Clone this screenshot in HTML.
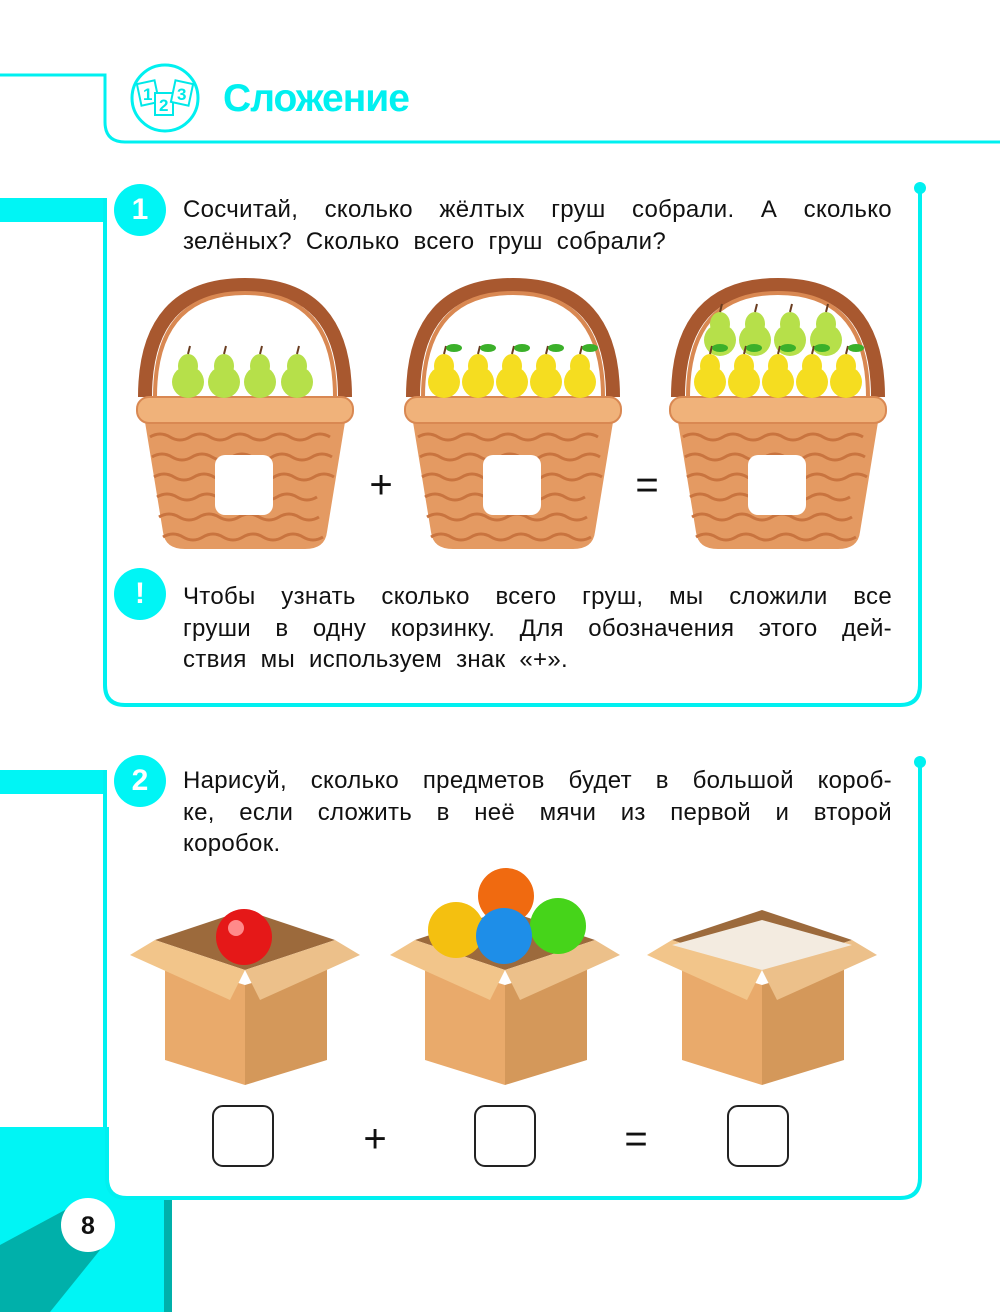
<!DOCTYPE html>
<html><head><meta charset="utf-8"><style>
body{margin:0;width:1000px;height:1312px;position:relative;background:#fff;font-family:"Liberation Sans","DejaVu Sans",sans-serif;overflow:hidden}
.a{position:absolute}
.t{position:absolute;left:183px;width:709px;font-size:24px;line-height:31.5px;color:#111;letter-spacing:0.3px}
.t div{text-align:justify;text-align-last:justify;white-space:nowrap;display:flex;justify-content:space-between}
.t div.l{justify-content:flex-start;gap:14px}
.num{position:absolute;width:52px;height:52px;border-radius:50%;background:#00f5f5;color:#fff;font-weight:bold;font-size:30px;text-align:center;line-height:52px}
</style></head><body>
<svg class="a" style="left:0;top:0" width="1000" height="1312">
<path d="M0 75 H105 V122 Q105 142 125 142 H1000" fill="none" stroke="#00f0f0" stroke-width="3"/>
<rect x="0" y="198" width="107" height="24" fill="#00f5f5"/>
<rect x="0" y="770" width="107" height="24" fill="#00f5f5"/>
<rect x="0" y="1127" width="172" height="185" fill="#00f5f5"/>
<rect x="164" y="1200" width="8" height="112" fill="#00b0aa"/>
<polygon points="0,1245 65,1210 100,1250 50,1312 0,1312" fill="#00b0aa"/>
<path d="M105 198 V685 Q105 705 125 705 H900 Q920 705 920 685 V188" fill="none" stroke="#00f0f0" stroke-width="4"/>
<circle cx="920" cy="188" r="6" fill="#00f0f0"/>
<path d="M105 770 V1127" fill="none" stroke="#00f0f0" stroke-width="4"/>
<path d="M107 1127 V1178 Q107 1198 127 1198 H900 Q920 1198 920 1178 V762" fill="#fff" stroke="#00f0f0" stroke-width="4"/>
<rect x="109" y="1120" width="60" height="60" fill="#fff"/>
<circle cx="920" cy="762" r="6" fill="#00f0f0"/>
<circle cx="165" cy="98" r="33" fill="none" stroke="#00f0f0" stroke-width="3"/>
<g font-weight="bold" font-size="17" fill="#00e8e8">
<rect x="139" y="82" width="18" height="22" fill="none" stroke="#00e8e8" stroke-width="2" transform="rotate(-12 148 93)"/>
<text x="143" y="100">1</text>
<rect x="155" y="93" width="18" height="22" fill="#fff" stroke="#00e8e8" stroke-width="2"/>
<text x="159" y="111">2</text>
<rect x="173" y="82" width="18" height="22" fill="#fff" stroke="#00e8e8" stroke-width="2" transform="rotate(12 182 93)"/>
<text x="177" y="100">3</text>
</g>
<text x="223" y="111" font-size="39" font-weight="bold" fill="#00f0f0" textLength="187">Сложение</text>
<defs>
<g id="basket">
<path d="M-100 110 Q-100 -2 0 -2 Q100 -2 100 110" fill="none" stroke="#a8582f" stroke-width="14"/>
<path d="M-90 110 Q-90 6 0 6 Q90 6 90 110" fill="none" stroke="#d98852" stroke-width="4"/>
<path d="M-100 135 L-82 245 Q-80 262 -60 262 H60 Q80 262 82 245 L100 135 Z" fill="#e49a62"/>
<g stroke="#c9743f" stroke-width="3" fill="none">
<path d="M-95 150 q10 -6 20 0 t20 0 t20 0 t20 0 t20 0 t20 0 t20 0 t20 0 t20 0"/>
<path d="M-93 170 q10 -6 20 0 t20 0 t20 0 t20 0 t20 0 t20 0 t20 0 t20 0 t20 0"/>
<path d="M-91 190 q10 -6 20 0 t20 0 t20 0 t20 0 t20 0 t20 0 t20 0 t20 0 t20 0"/>
<path d="M-88 210 q10 -6 20 0 t20 0 t20 0 t20 0 t20 0 t20 0 t20 0 t20 0"/>
<path d="M-86 230 q10 -6 20 0 t20 0 t20 0 t20 0 t20 0 t20 0 t20 0 t20 0"/>
<path d="M-82 250 q10 -6 20 0 t20 0 t20 0 t20 0 t20 0 t20 0 t20 0 t20 0"/>
</g>
<rect x="-108" y="110" width="216" height="26" rx="12" fill="#f0b27a" stroke="#d98852" stroke-width="2"/>
<rect x="-30" y="168" width="58" height="60" rx="10" fill="#fff"/>
</g>
<g id="gp"><ellipse cx="0" cy="10" rx="16" ry="16" fill="#b6e04a"/><ellipse cx="0" cy="-6" rx="10" ry="12" fill="#b6e04a"/><path d="M0 -18 l2 -8" stroke="#6a3d20" stroke-width="2"/></g>
<g id="yp"><ellipse cx="0" cy="10" rx="16" ry="16" fill="#f5dd20"/><ellipse cx="0" cy="-6" rx="10" ry="12" fill="#f5dd20"/><path d="M0 -18 l2 -8" stroke="#6a3d20" stroke-width="2"/><ellipse cx="10" cy="-24" rx="8" ry="4" fill="#3bb02a"/></g>
<g id="box">
<polygon points="-90,-15 0,-45 90,-15 0,15" fill="#9c6a3c"/>
<polygon points="-100,0 0,30 0,130 -80,105 -80,10" fill="#e9aa6b"/>
<polygon points="0,30 100,0 82,10 82,105 0,130" fill="#d4985a"/>
<polygon points="-115,0 -90,-15 0,15 -15,45" fill="#f2c58a"/>
<polygon points="115,0 90,-15 0,15 15,45" fill="#ecc08a"/>
</g>
</defs>
<use href="#basket" x="245" y="287"/>
<use href="#basket" x="513" y="287"/>
<use href="#basket" x="778" y="287"/>
<use href="#gp" x="188" y="372"/><use href="#gp" x="224" y="372"/><use href="#gp" x="260" y="372"/><use href="#gp" x="297" y="372"/>
<use href="#yp" x="444" y="372"/><use href="#yp" x="478" y="372"/><use href="#yp" x="512" y="372"/><use href="#yp" x="546" y="372"/><use href="#yp" x="580" y="372"/>
<use href="#gp" x="720" y="330"/><use href="#gp" x="755" y="330"/><use href="#gp" x="790" y="330"/><use href="#gp" x="826" y="330"/>
<use href="#yp" x="710" y="372"/><use href="#yp" x="744" y="372"/><use href="#yp" x="778" y="372"/><use href="#yp" x="812" y="372"/><use href="#yp" x="846" y="372"/>
<text x="381" y="498" font-size="40" text-anchor="middle" fill="#111">+</text>
<text x="647" y="498" font-size="40" text-anchor="middle" fill="#111">=</text>
<use href="#box" x="245" y="955"/>
<use href="#box" x="505" y="955"/>
<use href="#box" x="762" y="955"/>
<polygon points="672,945 762,920 852,945 762,970" fill="#f3ebe0"/>
<circle cx="244" cy="937" r="28" fill="#e51818"/><circle cx="236" cy="928" r="8" fill="#ff8a8a"/>
<circle cx="506" cy="896" r="28" fill="#f06a10"/>
<circle cx="456" cy="930" r="28" fill="#f4c010"/>
<circle cx="558" cy="926" r="28" fill="#46d41a"/>
<circle cx="504" cy="936" r="28" fill="#1e8ee8"/>
<g fill="none" stroke="#222" stroke-width="2">
<rect x="213" y="1106" width="60" height="60" rx="10"/>
<rect x="475" y="1106" width="60" height="60" rx="10"/>
<rect x="728" y="1106" width="60" height="60" rx="10"/>
</g>
<text x="375" y="1152" font-size="40" text-anchor="middle" fill="#111">+</text>
<text x="636" y="1152" font-size="40" text-anchor="middle" fill="#111">=</text>
<circle cx="88" cy="1225" r="27" fill="#fff"/>
<text x="88" y="1234" font-size="25" font-weight="bold" text-anchor="middle" fill="#111">8</text>
</svg>
<div class="num" style="left:114px;top:184px">1</div>
<div class="num" style="left:114px;top:568px">!</div>
<div class="num" style="left:114px;top:755px">2</div>
<div class="t" style="top:194px">
<div><span>Сосчитай,</span><span>сколько</span><span>жёлтых</span><span>груш</span><span>собрали.</span><span>А</span><span>сколько</span></div>
<div class="l"><span>зелёных?</span><span>Сколько</span><span>всего</span><span>груш</span><span>собрали?</span></div>
</div>
<div class="t" style="top:581px">
<div><span>Чтобы</span><span>узнать</span><span>сколько</span><span>всего</span><span>груш,</span><span>мы</span><span>сложили</span><span>все</span></div>
<div><span>груши</span><span>в</span><span>одну</span><span>корзинку.</span><span>Для</span><span>обозначения</span><span>этого</span><span>дей-</span></div>
<div class="l"><span>ствия</span><span>мы</span><span>используем</span><span>знак</span><span>«+».</span></div>
</div>
<div class="t" style="top:765px">
<div><span>Нарисуй,</span><span>сколько</span><span>предметов</span><span>будет</span><span>в</span><span>большой</span><span>короб-</span></div>
<div><span>ке,</span><span>если</span><span>сложить</span><span>в</span><span>неё</span><span>мячи</span><span>из</span><span>первой</span><span>и</span><span>второй</span></div>
<div class="l"><span>коробок.</span></div>
</div>
</body></html>
